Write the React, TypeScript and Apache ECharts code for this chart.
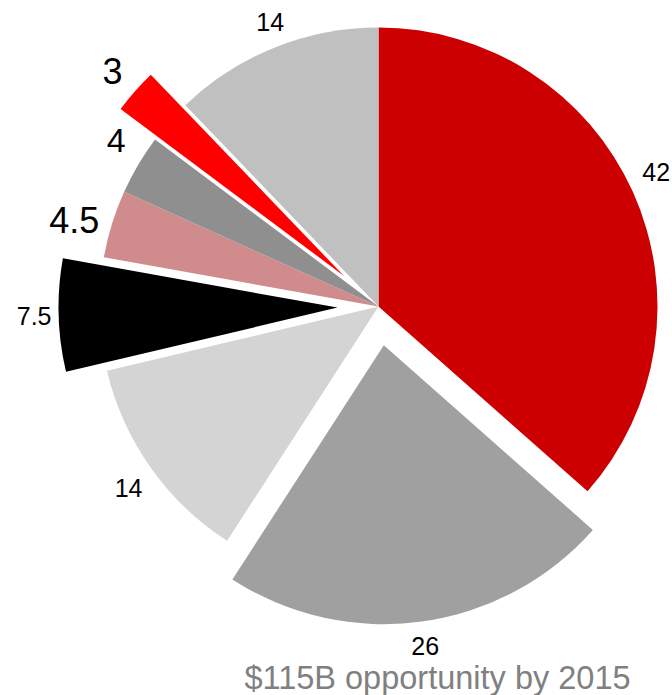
import React, { useEffect, useRef } from 'react';
import * as echarts from 'echarts';

// Slice data, clockwise from 12 o'clock
const SLICE_NAMES = ['Slice 1', 'Slice 2', 'Slice 3', 'Slice 4', 'Slice 5', 'Slice 6', 'Slice 7', 'Slice 8'];
const VALUES = [42, 26, 14, 7.5, 4.5, 4, 3, 14];
const TITLE_TEXT = '$115B opportunity by 2015';

// Styling
const COLORS = ['#CC0000', '#A0A0A0', '#D4D4D4', '#000000', '#D08C8C', '#8F8F8F', '#FF0000', '#C0C0C0'];
const EXPLODE = [0, 39, 0, 41, 0, 0, 46, 0];
const LABEL_SIZES = [25, 25, 25, 25, 36, 34, 36, 25];
const LABEL_NUDGE = [[1, -10], [-1, -1], [-2, 6], [-5, -1], [-9, 5], [3, -10], [1, -9], [5, -3]];

const CENTER = [378.5, 306.5];
const RADIUS = 279;
const FONT = 'Liberation Sans, Arial, sans-serif';
const CLEAR = 'rgba(0,0,0,0)';

function buildSeries() {
  const series: any[] = [];
  const common = {
    type: 'pie',
    center: CENTER,
    startAngle: 90,
    clockwise: true,
    selectedMode: 'multiple',
    silent: true,
    avoidLabelOverlap: false,
    emphasis: { disabled: true },
    labelLine: { show: false },
  };
  // slices, grouped by explode offset
  const groups = Array.from(new Set(EXPLODE));
  groups.forEach((g) => {
    const member = (i: number) => EXPLODE[i] === g;
    series.push({
      ...common,
      selectedOffset: g,
      radius: [0, RADIUS],
      label: { show: false },
      data: VALUES.map((v, i) => ({
        name: SLICE_NAMES[i],
        value: v,
        selected: g > 0 && member(i),
        itemStyle: { color: member(i) ? COLORS[i] : CLEAR, borderWidth: 0 },
      })),
    });
  });
  // one invisible label ring per slice
  VALUES.forEach((_, k) => {
    const rl = RADIUS + 9 + LABEL_SIZES[k] * 0.5;
    series.push({
      ...common,
      selectedOffset: EXPLODE[k],
      radius: [rl - 10, rl + 10],
      label: {
        position: 'inside',
        formatter: '{c}',
        color: '#000000',
        fontFamily: FONT,
        overflow: 'none',
        rotate: 0,
      },
      data: VALUES.map((v, i) => ({
        name: SLICE_NAMES[i],
        value: v,
        selected: i === k && EXPLODE[k] > 0,
        itemStyle: { color: CLEAR, borderWidth: 0 },
        label: { show: i === k, fontSize: LABEL_SIZES[i], offset: LABEL_NUDGE[i] },
      })),
    });
  });
  return series;
}

export default function App() {
  const ref = useRef<HTMLDivElement>(null);
  useEffect(() => {
    if (!ref.current) return;
    const chart = echarts.init(ref.current, undefined, { renderer: 'svg' });
    chart.setOption({
      animation: false,
      backgroundColor: '#ffffff',
      series: buildSeries(),
      graphic: [
        {
          type: 'text',
          silent: true,
          style: {
            text: TITLE_TEXT,
            x: 437.5,
            y: 678,
            align: 'center',
            verticalAlign: 'middle',
            fontSize: 32.5,
            fontFamily: FONT,
            fill: '#808080',
          },
        },
      ],
    });
    return () => chart.dispose();
  }, []);
  return (
    <div
      ref={ref}
      style={{ position: 'absolute', left: 0, top: 0, width: 672, height: 695 }}
    />
  );
}
